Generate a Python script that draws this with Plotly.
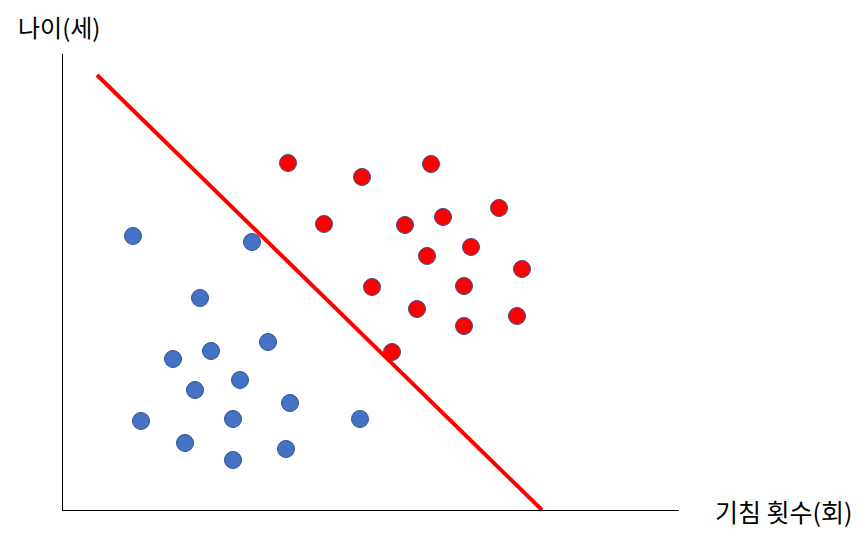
import plotly.graph_objects as go

# Blue group (low cough count / low age)
blue_x = [70, 189, 137, 205, 148, 110, 177, 132, 227, 78, 170, 297, 122, 223, 170]
blue_y = [274, 268, 212, 168, 159, 151, 130, 120, 107, 89, 91, 91, 67, 61, 50]

# Red group
red_x = [225, 299, 368, 261, 342, 380, 436, 364, 408, 459, 309, 401, 354, 401, 454, 329]
red_y = [347, 333, 346, 286, 285, 293, 302, 254, 263, 241, 223, 224, 201, 184, 194, 158]

# Decision boundary end points
line_x = [34, 479]
line_y = [435, 0]

FONT = "Noto Sans CJK KR"

fig = go.Figure()

fig.add_trace(go.Scatter(
    x=blue_x, y=blue_y, mode="markers",
    marker=dict(size=17, color="#4472C4", line=dict(color="#2F528F", width=1)),
    showlegend=False
))

fig.add_trace(go.Scatter(
    x=red_x, y=red_y, mode="markers",
    marker=dict(size=17, color="#FF0000", line=dict(color="#2F528F", width=1)),
    showlegend=False
))

fig.add_trace(go.Scatter(
    x=line_x, y=line_y, mode="lines",
    line=dict(color="#FF0000", width=4),
    showlegend=False
))

# page body has an 8px margin, so margins are reduced by 8
fig.update_layout(
    width=868, height=539,
    margin=dict(l=55, r=197, t=46, b=37),
    plot_bgcolor="white",
    paper_bgcolor="white",
    font=dict(family=FONT, color="black"),
    xaxis=dict(range=[0, 616], showgrid=False, zeroline=False, showticklabels=False,
               ticks="", showline=True, linecolor="black", linewidth=1.3),
    yaxis=dict(range=[0, 456], showgrid=False, zeroline=False, showticklabels=False,
               ticks="", showline=True, linecolor="black", linewidth=1.3),
    annotations=[
        dict(text="나이(세)", xref="paper", yref="paper", x=-0.0747, y=1.061,
             xanchor="left", yanchor="middle", showarrow=False, borderpad=0,
             font=dict(family=FONT, size=24, color="black")),
        dict(text="기침 횟수(회)", xref="paper", yref="paper", x=1.0552, y=-0.002,
             xanchor="left", yanchor="middle", showarrow=False,
             font=dict(family=FONT, size=25, color="black")),
    ]
)

fig.write_html("out.html")
